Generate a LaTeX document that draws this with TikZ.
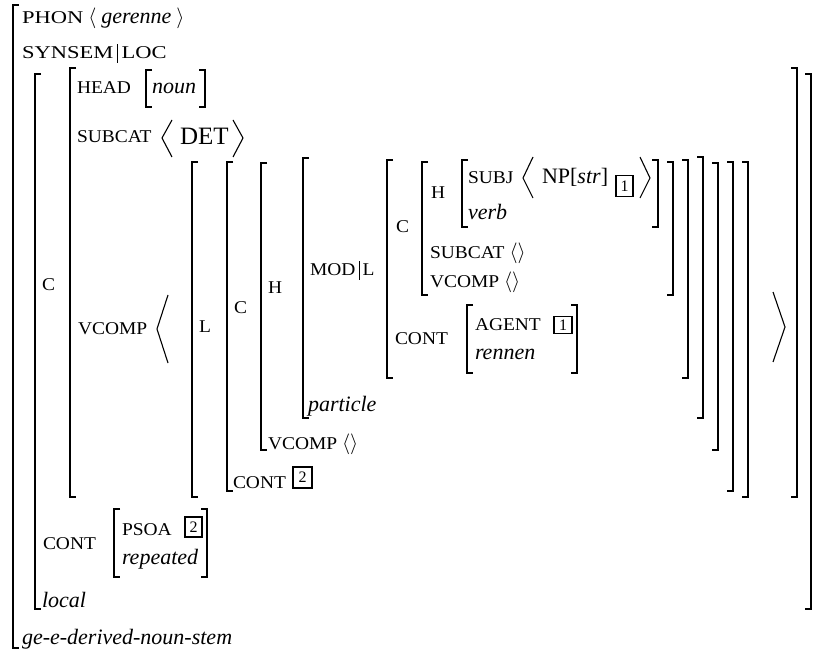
\documentclass[tikz,border=0pt]{standalone}
\usepackage{fontspec}
\setmainfont{Liberation Serif}
\usepackage{graphicx}
\newcommand\lbl[1]{\scalebox{1.08}[1]{\fontsize{18}{20}\selectfont #1}}
\newcommand\lbw[1]{\scalebox{1.25}[1]{\fontsize{18}{20}\selectfont #1}}
\newcommand\itx[1]{{\fontsize{22}{24}\selectfont\itshape #1}}
\newcommand\LB[3]{\draw[br] (#1+6,#2) -- (#1,#2) -- (#1,#3) -- (#1+6,#3);}
\newcommand\RB[3]{\draw[br] (#1-6,#2) -- (#1,#2) -- (#1,#3) -- (#1-6,#3);}
\begin{document}
\begin{tikzpicture}[x=1pt,y=-1pt,
  br/.style={line width=1.7pt},
  ag/.style={line width=1.1pt},
  t/.style={anchor=base west, inner sep=0pt, outer sep=0pt, font=\fontsize{20}{22}\selectfont},
  bx/.style={draw, line width=1.7pt, inner sep=0pt, minimum width=17pt, minimum height=20pt, font=\fontsize{16}{16}\selectfont}]
\useasboundingbox (0,0) rectangle (817,652);
% left brackets
\LB{13}{5}{648}
\LB{35}{74}{609}
\LB{70}{68}{497}
\LB{146}{70}{107} \RB{205}{70}{107}
\LB{192}{162}{497}
\LB{227}{162}{491}
\LB{261}{163}{450}
\LB{303}{158}{418}
\LB{387}{160}{378}
\LB{422}{162}{295}
\LB{462}{160}{227} \RB{658}{160}{227}
\LB{467}{305}{373} \RB{577}{305}{373}
\LB{114}{509}{577} \RB{207}{509}{577}
% right brackets
\RB{673}{162}{295}
\RB{688}{160}{378}
\RB{703}{157}{418}
\RB{718}{163}{450}
\RB{733}{162}{491}
\RB{748}{162}{497}
\RB{797}{68}{497}
\RB{811}{74}{609}
% big angle brackets
\draw[ag] (172,120) -- (162,138) -- (172,157);
\draw[ag] (233,120) -- (243,138) -- (233,157);
\draw[ag] (168,295) -- (157,329) -- (168,363);
\draw[ag] (773,292) -- (785,327) -- (773,362);
\draw[ag] (533,157) -- (523,178) -- (533,198);
\draw[ag] (640,157) -- (650,178) -- (640,198);
% texts
\node[t] (phon) at (22,24) {\lbw{PHON} $\langle$ \itx{gerenne} $\rangle$};
\node[t] (ss) at (22,59) {\lbw{SYNSEM\,\rule[-4pt]{0.7pt}{19pt}\,LOC}};
\node[t] (head) at (77,94) {\lbl{HEAD}};
\node[t] (noun) at (152,94) {\itx{noun}};
\node[t] (sub) at (77,143) {\lbl{SUBCAT}};
\node[t] (det) at (180,145) {\fontsize{25}{26}\selectfont DET};
\node[t] (c1) at (42,291) {\lbl{C}};
\node[t] (vc) at (78,335) {\lbl{VCOMP}};
\node[t] (l1) at (199,333) {\lbl{L}};
\node[t] (c2) at (234,314) {\lbl{C}};
\node[t] (h1) at (268,294) {\lbl{H}};
\node[t] (mod) at (310,276) {\lbl{MOD\,\rule[-4pt]{0.7pt}{19pt}\,L}};
\node[t] (part) at (308,411) {\itx{particle}};
\node[t] (vc2) at (268,449) {\lbl{VCOMP} $\langle\rangle$};
\node[t] (cont2) at (233,488) {\lbl{CONT}};
\node[bx, minimum width=19pt, minimum height=21pt] (b2a) at (302.5,477.5) {2};
\node[t] (c3) at (396,233) {\lbl{C}};
\node[t] (h2) at (431,199) {\lbl{H}};
\node[t] (subj) at (468,184) {\lbl{SUBJ}};
\node[t] (np) at (542,184) {\fontsize{22}{24}\selectfont NP[\textit{str}]};
\node[bx, minimum height=21pt] (b1a) at (624.5,186) {1};
\node[t] (verb) at (468,220) {\itx{verb}};
\node[t] (sub2) at (430,259) {\lbl{SUBCAT} $\langle\rangle$};
\node[t] (vc3) at (430,288) {\lbl{VCOMP} $\langle\rangle$};
\node[t] (cont3) at (395,345) {\lbl{CONT}};
\node[t] (agent) at (475,331) {\lbl{AGENT}};
\node[bx, minimum width=18pt, minimum height=17pt] (b1b) at (563,325) {1};
\node[t] (renn) at (475,360) {\itx{rennen}};
\node[t] (cont1) at (43,549) {\lbl{CONT}};
\node[t] (psoa) at (122,535) {\lbl{PSOA}};
\node[bx] (b2b) at (193.5,527) {2};
\node[t] (rep) at (122,564) {\itx{repeated}};
\node[t] (loc) at (42,607) {\itx{local}};
\node[t] (type) at (22,644) {\itx{ge-e-derived-noun-stem}};
\end{tikzpicture}
\end{document}
